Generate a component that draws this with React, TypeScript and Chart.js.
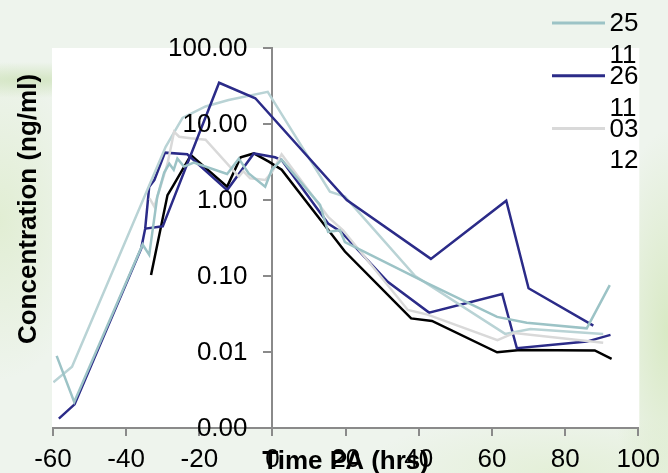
import React, { useEffect, useRef } from 'react';
import { Chart, registerables } from 'chart.js';

Chart.register(...registerables);

// ---- data (x = time PA in hours, y = concentration in ng/ml) ----
const xTicks = [-60, -40, -20, 0, 20, 40, 60, 80, 100];
const yTicks = [0.001, 0.01, 0.1, 1, 10, 100];
const yTickLabels = ['0.00', '0.01', '0.10', '1.00', '10.00', '100.00'];
const xTitle = 'Time PA (hrs)';
const yTitle = 'Concentration (ng/ml)';
const seriesLabels = ['25 11', '26 11', '03 12', '', '', ''];
const seriesColors = ['#9cc3c6', '#2b2b88', '#d9d9d9', '#b9d3d5', '#2b2b88', '#000000'];

const s2511: [number, number][] = [
  [-59, 0.0089], [-54.2, 0.0022], [-35.5, 0.26], [-33.7, 0.19], [-31.5, 1.1], [-29.6, 2.3],
  [-28.2, 3.0], [-27, 2.5], [-26, 3.5], [-24.2, 2.75], [-21.5, 3.1], [-12.4, 2.2], [-9.2, 3.5],
  [-6.5, 2.24], [-2, 1.5], [-0.2, 2.5], [2.5, 3.4], [13, 0.86], [15.2, 0.38], [18.4, 0.4],
  [19.8, 0.28], [42.4, 0.08], [61.4, 0.029], [69.5, 0.0243], [85.9, 0.0205], [92.2, 0.076],
];
const s2611: [number, number][] = [
  [-34.8, 0.42], [-30, 0.45], [-14.6, 34.9], [-4.7, 21.8], [20.3, 1.0], [43.3, 0.168],
  [63.9, 0.98], [70, 0.069], [87.7, 0.0222],
];
const s0312: [number, number][] = [
  [-33.6, 1.05], [-32.3, 0.82], [-28.7, 3.0], [-26.9, 7.9], [-25.5, 6.8], [-22.4, 6.5],
  [-18.3, 6.2], [-9.2, 2.03], [-8, 2.4], [-6.1, 1.93], [-2, 1.83], [-0.2, 2.3], [2.5, 4.0],
  [15.2, 0.6], [19.3, 0.4], [37, 0.0357], [42.4, 0.031], [61.5, 0.0143], [66.1, 0.0178],
  [90.4, 0.0132],
];
const sLightTeal: [number, number][] = [
  [-59.9, 0.004], [-54.8, 0.0064], [-29.2, 5.0], [-24.6, 12], [-18.3, 17], [-12, 20.7],
  [-1.3, 26.5], [15.7, 1.29], [19.8, 1.11], [39, 0.1], [63.6, 0.0173], [70.5, 0.0201],
  [90.4, 0.0173],
];
const sNavy2: [number, number][] = [
  [-58.4, 0.00133], [-54.1, 0.00205], [-35.9, 0.23], [-34.8, 0.42], [-33.7, 1.5], [-32.3, 1.83],
  [-29.4, 4.2], [-23.3, 4.0], [-12.4, 1.35], [-5.1, 4.1], [0.7, 3.65], [2.5, 3.36], [15.2, 0.49],
  [18.8, 0.38], [31.5, 0.084], [42.8, 0.033], [62.8, 0.058], [66.8, 0.0112], [85.9, 0.0137],
  [92.4, 0.0168],
];
const sBlack: [number, number][] = [
  [-33.2, 0.103], [-28.7, 1.16], [-27.3, 1.5], [-22.3, 3.9], [-12.4, 1.5], [-8.7, 3.65],
  [-5.1, 4.1], [-1, 3.2], [2.5, 2.5], [19.8, 0.21], [37.9, 0.0277], [43.6, 0.0256],
  [61.4, 0.0099], [67.7, 0.0106], [88.1, 0.0105], [92.7, 0.0081],
];

const allSeries = [s2511, s2611, s0312, sLightTeal, sNavy2, sBlack];

const FONT = '"Liberation Sans", Arial, sans-serif';

const decorPlugin = {
  id: 'decor',
  beforeDraw(chart: any) {
    const { ctx, chartArea: a } = chart;
    ctx.save();
    ctx.fillStyle = '#ffffff';
    ctx.fillRect(a.left - 1, a.top, a.right - a.left + 2, a.bottom - a.top);
    ctx.restore();
  },
  afterDraw(chart: any) {
    const { ctx, chartArea: a, scales } = chart;
    const x0 = scales.x.getPixelForValue(0);
    ctx.save();
    ctx.fillStyle = '#000';
    // y tick labels (positions from the log scale)
    ctx.font = `26px ${FONT}`;
    ctx.textAlign = 'right';
    ctx.textBaseline = 'middle';
    yTicks.forEach((v, i) => {
      ctx.fillText(yTickLabels[i], x0 - 25, scales.y.getPixelForValue(v) + 1);
    });
    // x title
    ctx.font = `bold 26px ${FONT}`;
    ctx.textAlign = 'center';
    ctx.textBaseline = 'alphabetic';
    ctx.fillText(xTitle, (a.left + a.right) / 2, a.bottom + 40.5);
    // y title
    ctx.save();
    ctx.translate(36, 209);
    ctx.rotate(-Math.PI / 2);
    ctx.fillText(yTitle, 0, 0);
    ctx.restore();
    // legend
    ctx.font = `26px ${FONT}`;
    ctx.textAlign = 'left';
    ctx.textBaseline = 'middle';
    let row = 0;
    chart.data.datasets.forEach((ds: any) => {
      if (!ds.label) return;
      const cy = 23 + row * 52.8;
      ctx.strokeStyle = ds.borderColor;
      ctx.lineWidth = 3;
      ctx.beginPath();
      ctx.moveTo(552, cy);
      ctx.lineTo(605, cy);
      ctx.stroke();
      const parts = String(ds.label).split(' ');
      parts.forEach((p: string, j: number) => ctx.fillText(p, 609.5, cy + 1 + j * 31.7));
      row++;
    });
    ctx.restore();
  },
};

export default function App() {
  const ref = useRef<HTMLCanvasElement | null>(null);
  useEffect(() => {
    if (!ref.current) return;
    const chart = new Chart(ref.current, {
      type: 'line',
      data: {
        datasets: allSeries.map((s, i) => ({
          label: seriesLabels[i],
          data: s.map(([x, y]) => ({ x, y })),
          borderColor: seriesColors[i],
          backgroundColor: seriesColors[i],
          borderWidth: 2.5,
          pointRadius: 0,
          tension: 0,
          fill: false,
        })),
      },
      options: {
        animation: false,
        responsive: true,
        maintainAspectRatio: false,
        layout: { padding: { left: 53, right: 26, top: 48, bottom: 0 } },
        plugins: { legend: { display: false }, tooltip: { enabled: false } },
        scales: {
          x: {
            type: 'linear',
            position: 'bottom',
            min: -60,
            max: 100,
            afterBuildTicks: (s: any) => { s.ticks = xTicks.map((v) => ({ value: v })); },
            afterFit: (s: any) => { s.height = 45; },
            ticks: {
              autoSkip: false,
              maxRotation: 0,
              padding: 8,
              color: '#000',
              font: { family: FONT, size: 26 },
            },
            grid: { drawOnChartArea: false, tickLength: 8, color: '#8a8a8a', lineWidth: 2 },
            border: { color: '#8a8a8a', width: 2 },
          },
          y: {
            type: 'logarithmic',
            position: { x: 0 } as any,
            min: 0.001,
            max: 100,
            afterBuildTicks: (s: any) => { s.ticks = yTicks.map((v) => ({ value: v })); },
            ticks: { display: false },
            grid: { drawOnChartArea: false, tickLength: 8, color: '#8a8a8a', lineWidth: 2 },
            border: { color: '#8a8a8a', width: 2 },
          },
        },
      },
      plugins: [decorPlugin],
    });
    return () => chart.destroy();
  }, []);

  return (
    <div
      style={{
        position: 'fixed',
        left: 0,
        top: 0,
        width: 668,
        height: 473,
        background:
          'radial-gradient(ellipse 140px 18px at 30px 80px, rgba(205,226,185,0.8), rgba(205,226,185,0)),' +
          'radial-gradient(ellipse 90px 160px at 0px 220px, rgba(222,236,205,0.8), rgba(222,236,205,0)),' +
          'radial-gradient(ellipse 60px 200px at 668px 330px, rgba(214,232,192,0.9), rgba(214,232,192,0)),' +
          'radial-gradient(ellipse 200px 60px at 560px 473px, rgba(225,238,210,0.8), rgba(225,238,210,0)),' +
          '#eef4ed',
      }}
    >
      <canvas ref={ref} style={{ width: '100%', height: '100%' }} />
    </div>
  );
}
